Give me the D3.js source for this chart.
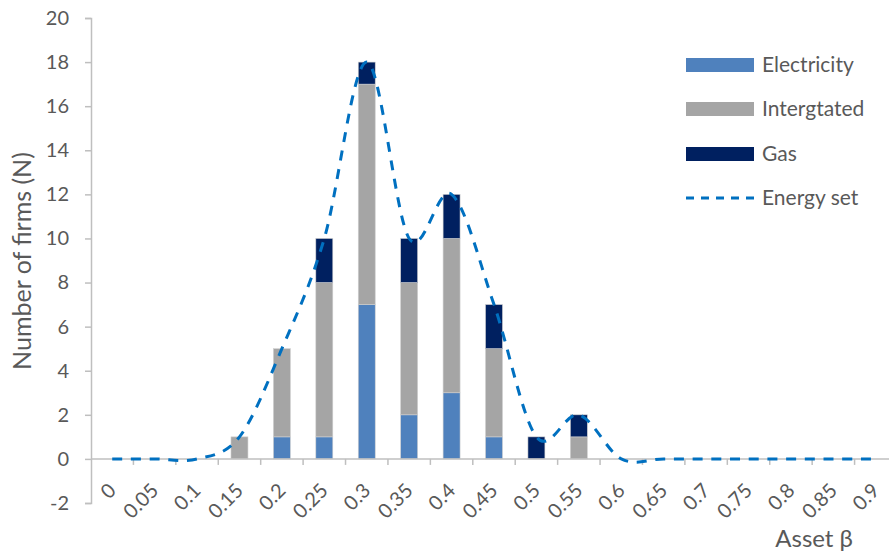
<!DOCTYPE html>
<html>
<head>
<meta charset="utf-8">
<script src="https://cdn.jsdelivr.net/npm/d3@7/dist/d3.min.js"></script>
<style>
  html, body { margin: 0; padding: 0; background: #fff; }
  svg { display: block; font-family: Lato, "Open Sans", sans-serif; }
</style>
</head>
<body>
<svg id="chart" width="889" height="559"></svg>
<script>
// Asset beta buckets
const categories = ["0","0.05","0.1","0.15","0.2","0.25","0.3","0.35","0.4","0.45","0.5","0.55","0.6","0.65","0.7","0.75","0.8","0.85","0.9"];
// Number of firms per bucket, by sector
const electricity = [0,0,0,0,1,1,7,2,3,1,0,0,0,0,0,0,0,0,0];
const integrated  = [0,0,0,1,4,7,10,6,7,4,0,1,0,0,0,0,0,0,0];
const gas         = [0,0,0,0,0,2,1,2,2,2,1,1,0,0,0,0,0,0,0];
// Whole energy set (sum of the three sectors)
const energySet   = [0,0,0,1,5,10,18,10,12,7,1,2,0,0,0,0,0,0,0];
const yTicks = [-2,0,2,4,6,8,10,12,14,16,18,20];

const seriesNames = ["Electricity","Intergtated","Gas"];
const seriesColors = ["#4F81BD","#A5A5A5","#002060"];
const lineColor = "#0070C0";
const textColor = "#595959";
const axisColor = "#BFBFBF";

const svg = d3.select("#chart");
const plotLeft = 91, plotRight = 897, plotTop = 18, plotBottom = 503;

const x = d3.scaleBand().domain(categories).range([plotLeft, plotRight]).paddingInner(0).paddingOuter(0);
const y = d3.scaleLinear().domain([-2, 20]).range([plotBottom, plotTop]);

// stacked bars
const rows = categories.map((c, i) => ({cat: c, Electricity: electricity[i], Intergtated: integrated[i], Gas: gas[i]}));
const stack = d3.stack().keys(seriesNames)(rows);
const barW = x.bandwidth() * 0.4;

svg.append("g").selectAll("g").data(stack).join("g")
  .attr("fill", (d, i) => seriesColors[i])
  .selectAll("rect").data(d => d.filter(p => p[1] - p[0] > 0)).join("rect")
  .attr("x", d => x(d.data.cat) + (x.bandwidth() - barW) / 2)
  .attr("width", barW)
  .attr("y", d => y(d[1]))
  .attr("height", d => y(d[0]) - y(d[1]))
  .attr("stroke", "#D0D0D0")
  .attr("stroke-width", 0.6);

// y axis
const yAxis = svg.append("g").attr("transform", `translate(${plotLeft},0)`)
  .call(d3.axisLeft(y).tickValues(yTicks).tickSize(6).tickPadding(16).tickFormat(d => String(d)));
yAxis.select(".domain").attr("stroke", axisColor).attr("stroke-width", 1.5);
yAxis.selectAll(".tick line").attr("stroke", axisColor).attr("stroke-width", 1.5);
yAxis.selectAll("text").attr("fill", textColor).attr("font-size", 20).attr("font-family", "Lato, sans-serif");

// x axis at zero, with ticks between categories
const xg = svg.append("g");
xg.append("line")
  .attr("x1", plotLeft).attr("x2", plotRight)
  .attr("y1", y(0)).attr("y2", y(0))
  .attr("stroke", axisColor).attr("stroke-width", 1.5);
xg.selectAll("line.tk").data(categories.slice(1)).join("line")
  .attr("class", "tk")
  .attr("x1", d => x(d)).attr("x2", d => x(d))
  .attr("y1", y(0)).attr("y2", y(0) + 6)
  .attr("stroke", axisColor).attr("stroke-width", 1.5);
xg.selectAll("text").data(categories).join("text")
  .attr("transform", d => `translate(${x(d) + x.bandwidth() / 2 + 5},${y(0) + 33}) rotate(-45)`)
  .attr("text-anchor", "end")
  .attr("fill", textColor)
  .attr("font-size", 20)
  .text(d => d);

// smoothed energy set line
const line = d3.line()
  .x((d, i) => x(categories[i]) + x.bandwidth() / 2)
  .y(d => y(d))
  .curve(d3.curveCardinal.tension(0));
svg.append("path")
  .datum(energySet)
  .attr("d", line)
  .attr("fill", "none")
  .attr("stroke", lineColor)
  .attr("stroke-width", 3)
  .attr("stroke-dasharray", "10,8.7");

// axis titles
svg.append("text")
  .attr("transform", `translate(31,261) rotate(-90)`)
  .attr("text-anchor", "middle")
  .attr("fill", textColor)
  .attr("font-size", 25)
  .text("Number of firms (N)");
svg.append("text")
  .attr("x", 853).attr("y", 547)
  .attr("text-anchor", "end")
  .attr("fill", textColor)
  .attr("font-size", 24)
  .text("Asset β");

// legend
const legend = svg.append("g");
const legY = [65, 109, 154, 198];
seriesNames.forEach((n, i) => {
  legend.append("rect")
    .attr("x", 686).attr("y", legY[i] - 7)
    .attr("width", 68).attr("height", 14)
    .attr("fill", seriesColors[i]);
  legend.append("text")
    .attr("x", 762).attr("y", legY[i])
    .attr("dy", "0.35em")
    .attr("fill", textColor).attr("font-size", 21)
    .text(n);
});
legend.append("line")
  .attr("x1", 686).attr("x2", 754)
  .attr("y1", legY[3]).attr("y2", legY[3])
  .attr("stroke", lineColor).attr("stroke-width", 3)
  .attr("stroke-dasharray", "8,7");
legend.append("text")
  .attr("x", 762).attr("y", legY[3])
  .attr("dy", "0.35em")
  .attr("fill", textColor).attr("font-size", 21)
  .text("Energy set");
</script>
</body>
</html>
